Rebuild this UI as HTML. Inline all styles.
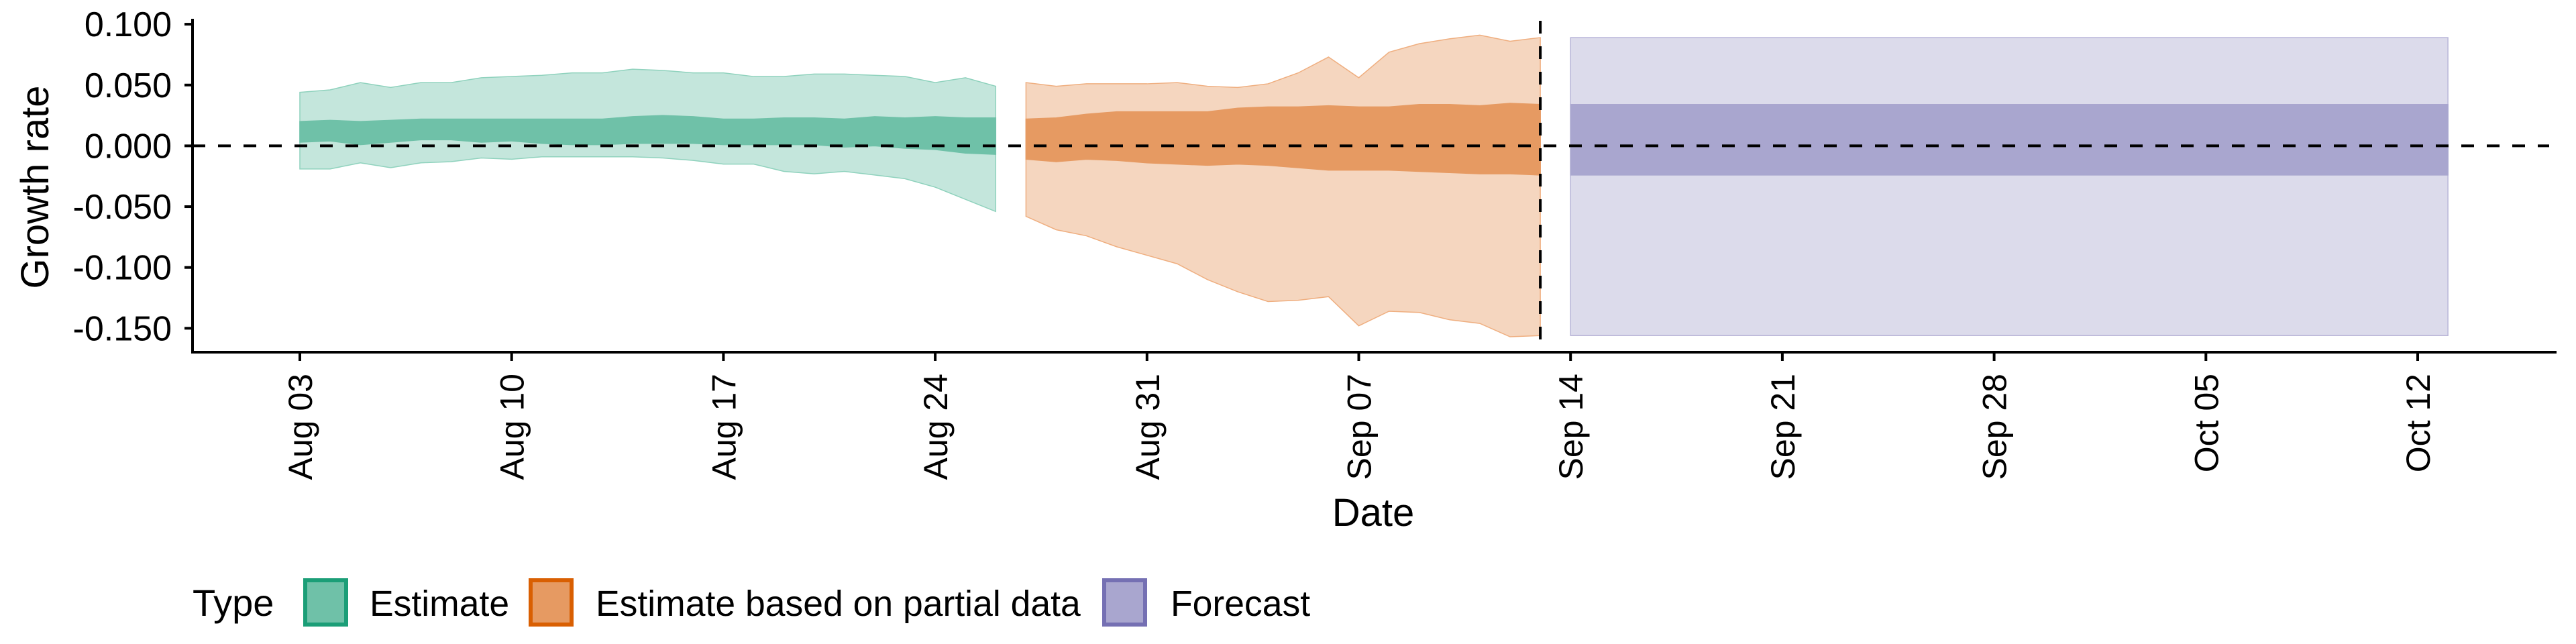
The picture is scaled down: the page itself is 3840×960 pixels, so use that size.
<!DOCTYPE html>
<html><head><meta charset="utf-8"><style>
html,body{margin:0;padding:0;background:#fff;}
svg{display:block;font-family:"Liberation Sans",sans-serif;}
</style></head><body>
<svg id="chart" width="3840" height="960" viewBox="0 0 3840 960" xmlns="http://www.w3.org/2000/svg"></svg>
<script>
const estStart = 0; // Aug 03
const estUpper90 = [0.044,0.046,0.052,0.048,0.052,0.052,0.056,0.057,0.058,0.060,0.060,0.063,0.062,0.060,0.060,0.057,0.057,0.059,0.059,0.058,0.057,0.052,0.056,0.049];
const estLower90 = [-0.019,-0.019,-0.014,-0.018,-0.014,-0.013,-0.010,-0.011,-0.009,-0.009,-0.009,-0.009,-0.010,-0.012,-0.015,-0.015,-0.021,-0.023,-0.021,-0.024,-0.027,-0.034,-0.044,-0.054];
const estUpper50 = [0.020,0.021,0.020,0.021,0.022,0.022,0.022,0.022,0.022,0.022,0.022,0.024,0.025,0.024,0.022,0.022,0.023,0.023,0.022,0.024,0.023,0.024,0.023,0.023];
const estLower50 = [0.003,0.004,0.001,0.003,0.005,0.005,0.003,0.004,0.002,0.001,0.001,0.002,0.002,0.002,0.001,0.001,0.001,0.001,-0.001,0.000,-0.002,-0.003,-0.006,-0.007];
const partStart = 24; // Aug 27
const partUpper90 = [0.052,0.049,0.051,0.051,0.051,0.052,0.049,0.048,0.051,0.060,0.073,0.056,0.077,0.084,0.088,0.091,0.086,0.089];
const partLower90 = [-0.058,-0.069,-0.074,-0.083,-0.090,-0.097,-0.110,-0.120,-0.128,-0.127,-0.124,-0.148,-0.136,-0.137,-0.143,-0.146,-0.157,-0.156];
const partUpper50 = [0.022,0.023,0.026,0.028,0.028,0.028,0.028,0.031,0.032,0.032,0.033,0.032,0.032,0.034,0.034,0.033,0.035,0.034];
const partLower50 = [-0.011,-0.013,-0.011,-0.012,-0.014,-0.015,-0.016,-0.015,-0.016,-0.018,-0.020,-0.020,-0.020,-0.021,-0.022,-0.023,-0.023,-0.024];
const fcStart = 42, fcEnd = 71; // Sep 14 .. Oct 13
const fcUpper90 = [0.089], fcLower90 = [-0.156], fcUpper50 = [0.034], fcLower50 = [-0.024];
const yTicks = [0.100,0.050,0.000,-0.050,-0.100,-0.150];
const yTickLabels = ["0.100","0.050","0.000","-0.050","-0.100","-0.150"];
const xTickDays = [0,7,14,21,28,35,42,49,56,63,70];
const xTickLabels = ["Aug 03","Aug 10","Aug 17","Aug 24","Aug 31","Sep 07","Sep 14","Sep 21","Sep 28","Oct 05","Oct 12"];
const dataCutoffDay = 41;

const NS="http://www.w3.org/2000/svg";
const svg=document.getElementById('chart');
const X0=447, PXD=45.1, Y0=217.4, PXV=1813;
const xs=d=>X0+d*PXD, ys=v=>Y0-v*PXV;
function mk(tag,attrs,parent){const e=document.createElementNS(NS,tag);for(const k in attrs)e.setAttribute(k,attrs[k]);(parent||svg).appendChild(e);return e;}
function band(start,up,lo,fill,stroke,name){
  let pts=up.map((v,i)=>xs(start+i)+','+ys(v));
  for(let i=lo.length-1;i>=0;i--)pts.push(xs(start+i)+','+ys(lo[i]));
  const p=mk('polygon',{points:pts.join(' '),fill:fill,stroke:stroke,'stroke-width':1.5});
  
  
}
function rect(s,e,u,l,fill,stroke,name){
  const r=mk('rect',{x:xs(s),y:ys(u),width:xs(e)-xs(s),height:ys(l)-ys(u),fill:fill,stroke:stroke,'stroke-width':1.5});
  
  
}
band(estStart,estUpper90,estLower90,'#c4e6dc','#8fd2bd','estimate-90-band');
band(estStart,estUpper50,estLower50,'#6fc1a8','#6fc1a8','estimate-50-band');
band(partStart,partUpper90,partLower90,'#f5d6bf','#efae7f','partial-90-band');
band(partStart,partUpper50,partLower50,'#e69a62','#e69a62','partial-50-band');
rect(fcStart,fcEnd,fcUpper90[0],fcLower90[0],'#dcdbeb','#b8b5d8','forecast-90-band');
rect(fcStart,fcEnd,fcUpper50[0],fcLower50[0],'#a9a6cf','#a9a6cf','forecast-50-band');

let zl=mk('line',{x1:287,x2:3800,y1:ys(0),y2:ys(0),stroke:'#000','stroke-width':4,'stroke-dasharray':'19 19'});


let vl=mk('line',{x1:xs(dataCutoffDay),x2:xs(dataCutoffDay),y1:31,y2:525,stroke:'#000','stroke-width':4,'stroke-dasharray':'19 19'});



let ya=mk('line',{x1:287,x2:287,y1:28,y2:526,stroke:'#000','stroke-width':4});


let xa=mk('line',{x1:285,x2:3811,y1:525,y2:525,stroke:'#000','stroke-width':4});


yTicks.forEach((v,i)=>{
  const t=mk('line',{x1:275,x2:287,y1:ys(v),y2:ys(v),stroke:'#000','stroke-width':4});
  
  
  const l=mk('text',{x:256,y:ys(v)+18,'text-anchor':'end','font-size':52,fill:'#000'});
  l.textContent=yTickLabels[i];
  
  
});
xTickDays.forEach((d,i)=>{
  const x=xs(d);
  const t=mk('line',{x1:x,x2:x,y1:525,y2:538,stroke:'#000','stroke-width':4});
  
  
  const l=mk('text',{x:0,y:0,'text-anchor':'end','font-size':50,fill:'#000',transform:`translate(${x+18},557) rotate(-90)`});
  l.textContent=xTickLabels[i];
  
  
});
let yt=mk('text',{x:0,y:0,'text-anchor':'middle','font-size':58,fill:'#000',transform:'translate(72,279) rotate(-90)'});
yt.textContent='Growth rate';


let xt=mk('text',{x:2047,y:784,'text-anchor':'middle','font-size':58,fill:'#000'});
xt.textContent='Date';



let lt=mk('text',{x:287,y:918,'font-size':56,fill:'#000'});
lt.textContent='Type';


const legItems=[[452,551,'#6fc1a8','#1b9e77','Estimate'],[788,888,'#e69a62','#d95f02','Estimate based on partial data'],[1643,1745,'#a9a6cf','#7570b3','Forecast']];
legItems.forEach(it=>{
  const g=mk('g',{});
  
  
  mk('rect',{x:it[0]+3,y:865,width:61,height:66,fill:it[2],stroke:it[3],'stroke-width':6},g);
  const t=mk('text',{x:it[1],y:918,'font-size':53.5,fill:'#000'},g);
  t.textContent=it[4];
});
</script>
</body></html>
